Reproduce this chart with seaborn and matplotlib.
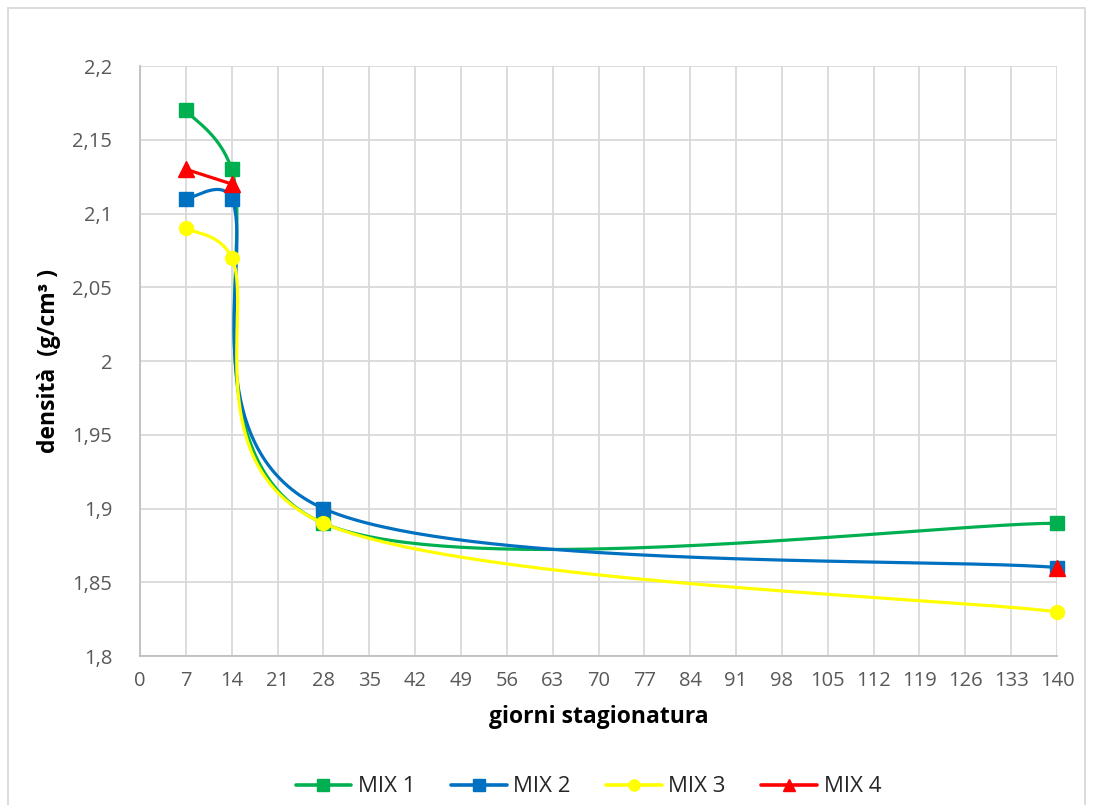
import numpy as np
import pandas as pd
import matplotlib
matplotlib.use("Agg")
import matplotlib.pyplot as plt
from matplotlib.lines import Line2D
from matplotlib.patches import Rectangle
import seaborn as sns

# ---- data ----
days = [7, 14, 28, 140]
mix1 = [2.17, 2.13, 1.89, 1.89]
mix2 = [2.11, 2.11, 1.90, 1.86]
mix3 = [2.09, 2.07, 1.89, 1.83]
mix4 = [2.13, 2.12, np.nan, 1.86]
series_names = ["MIX 1", "MIX 2", "MIX 3", "MIX 4"]
x_ticks = list(range(0, 141, 7))
y_ticks = [1.8, 1.85, 1.9, 1.95, 2.0, 2.05, 2.1, 2.15, 2.2]
y_tick_labels = ["1,8", "1,85", "1,9", "1,95", "2", "2,05", "2,1", "2,15", "2,2"]

colors = {"MIX 1": "#00B050", "MIX 2": "#0070C0", "MIX 3": "#FFFF00", "MIX 4": "#FF0000"}
markers = {"MIX 1": "s", "MIX 2": "s", "MIX 3": "o", "MIX 4": "^"}
msizes = {"MIX 1": 10, "MIX 2": 10, "MIX 3": 10, "MIX 4": 11}

df = pd.DataFrame({
    "giorni": days * 4,
    "densita": mix1 + mix2 + mix3 + mix4,
    "serie": sum([[n] * 4 for n in series_names], []),
})

sns.set_theme(style="white")
plt.rcParams["font.family"] = ["Open Sans", "DejaVu Sans"]

W, H = 1093, 805
fig = plt.figure(figsize=(W / 100, H / 100), dpi=100)
ax = fig.add_axes([140 / W, 1 - 656 / H, 917 / W, 590 / H])

XMIN, XMAX, YMIN, YMAX = 0, 140, 1.8, 2.2
AX_W, AX_H = 917.0, 590.0


def excel_smooth(xs, ys, n=80, k=0.5):
    # Bezier smoothing (spreadsheet-style smoothed line) computed in pixel space
    px = (np.asarray(xs) - XMIN) / (XMAX - XMIN) * AX_W
    py = (np.asarray(ys) - YMIN) / (YMAX - YMIN) * AX_H
    P = np.column_stack([px, py])
    m = len(P)
    out = []
    for i in range(m - 1):
        p0 = P[i - 1] if i > 0 else P[i]
        p1 = P[i]
        p2 = P[i + 1]
        p3 = P[i + 2] if i + 2 < m else P[i + 1]
        seg = np.linalg.norm(p2 - p1)
        h1 = (p2 - p0) / 6.0
        h2 = (p3 - p1) / 6.0
        for h in (h1, h2):
            L = np.linalg.norm(h)
            if L > k * seg and L > 0:
                h *= k * seg / L
        c1 = p1 + h1
        c2 = p2 - h2
        t = np.linspace(0, 1, n)[:, None]
        b = ((1 - t) ** 3) * p1 + 3 * ((1 - t) ** 2) * t * c1 + 3 * (1 - t) * t ** 2 * c2 + t ** 3 * p2
        out.append(b if i == 0 else b[1:])
    B = np.vstack(out)
    bx = B[:, 0] / AX_W * (XMAX - XMIN) + XMIN
    by = B[:, 1] / AX_H * (YMAX - YMIN) + YMIN
    return bx, by


for k, name in enumerate(series_names):
    sub = df[df["serie"] == name]
    xs = sub["giorni"].to_numpy(float)
    ys = sub["densita"].to_numpy(float)
    valid = ~np.isnan(ys)
    runs, cur = [], []
    for xv, yv, ok in zip(xs, ys, valid):
        if ok:
            cur.append((xv, yv))
        elif cur:
            runs.append(cur)
            cur = []
    if cur:
        runs.append(cur)
    for run in runs:
        if len(run) >= 2:
            rx, ry = zip(*run)
            sx, sy = excel_smooth(rx, ry)
            ax.plot(sx, sy, color=colors[name], lw=2.3, zorder=3 + k, solid_capstyle="round")
    ax.plot(xs[valid], ys[valid], ls="none", marker=markers[name], ms=msizes[name],
            color=colors[name], mec=colors[name], zorder=3 + k, clip_on=False)

ax.set_xlim(XMIN, XMAX)
ax.set_ylim(YMIN, YMAX)
ax.set_xticks(x_ticks)
ax.set_xticklabels([str(v) for v in x_ticks])
ax.set_yticks(y_ticks)
ax.set_yticklabels(y_tick_labels)
ax.tick_params(axis="both", length=0, labelsize=14.5, colors="#595959")
ax.tick_params(axis="x", pad=11)
ax.tick_params(axis="y", pad=20)
ax.grid(True, color="#d9d9d9", lw=1.3)
ax.set_axisbelow(True)
for s in ["top", "right"]:
    ax.spines[s].set_visible(False)
for s in ["left", "bottom"]:
    ax.spines[s].set_color("#bfbfbf")
    ax.spines[s].set_linewidth(1.3)

ax.set_xlabel("giorni stagionatura", fontsize=16.5, fontweight="bold", color="black", labelpad=10)
ax.set_ylabel("densità  (g/cm³ )", fontsize=16.5, fontweight="bold", color="black", labelpad=8)

handles = [Line2D([0], [0], color=colors[n], lw=2.6, marker=markers[n], ms=8,
                  mec=colors[n]) for n in series_names]
ax.legend(handles, series_names, loc="center", bbox_to_anchor=(0.489, -0.222), ncol=4,
          frameon=False, fontsize=16, handlelength=2.5, columnspacing=1.6, handletextpad=0.3)

fig.patches.append(Rectangle((8 / W, -0.05), (1085 - 8) / W, 1.05 - 8 / H, transform=fig.transFigure,
                             fill=False, edgecolor="#d9d9d9", lw=1.3))

fig.savefig("out.png", dpi=100)
